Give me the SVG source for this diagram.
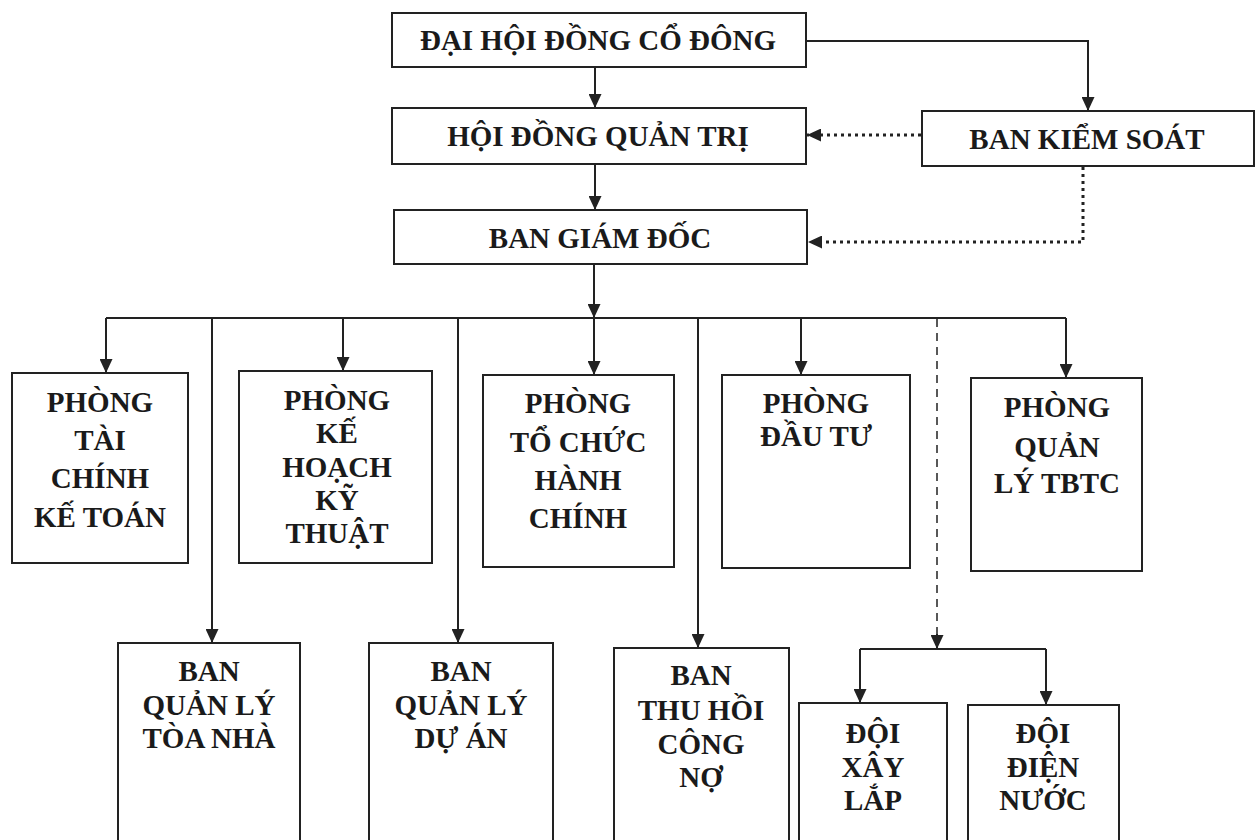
<svg xmlns="http://www.w3.org/2000/svg" width="1260" height="840" viewBox="0 0 1260 840">
<style>
.box{fill:#fff;stroke:#222;stroke-width:2}
.t{font-family:"Liberation Serif","Times New Roman",serif;font-weight:bold;font-size:29px;fill:#1a1a1a;text-anchor:middle}
.ln{fill:none;stroke:#222;stroke-width:2}
.dot{fill:none;stroke:#222;stroke-width:3;stroke-dasharray:3 4}
.dash{fill:none;stroke:#222;stroke-width:1.5;stroke-dasharray:8 6}
</style>
<defs>
<marker id="ahl" viewBox="0 0 14 13" refX="14" refY="6.5" markerWidth="14" markerHeight="13" markerUnits="userSpaceOnUse" orient="auto"><path d="M0,0 L14,6.5 L0,13 z" fill="#222"/></marker>
</defs>
<rect width="1260" height="840" fill="#fff"/>
<g id="connectors">
<path class="ln" d="M595,67 V108" marker-end="url(#ahl)"/>
<path class="ln" d="M595,164 V210" marker-end="url(#ahl)"/>
<path class="ln" d="M806,41 H1088 V111" marker-end="url(#ahl)"/>
<path class="dot" d="M921,135 H807" marker-end="url(#ahl)"/>
<path class="dot" d="M1083,167 V242 H808" marker-end="url(#ahl)"/>
<path class="ln" d="M594,264 V318" marker-end="url(#ahl)"/>
<path class="ln" d="M106,318 H1066"/>
<path class="ln" d="M106,318 V373" marker-end="url(#ahl)"/>
<path class="ln" d="M212,318 V643" marker-end="url(#ahl)"/>
<path class="ln" d="M343,318 V371" marker-end="url(#ahl)"/>
<path class="ln" d="M458,318 V643" marker-end="url(#ahl)"/>
<path class="ln" d="M594,318 V375" marker-end="url(#ahl)"/>
<path class="ln" d="M698,318 V648" marker-end="url(#ahl)"/>
<path class="ln" d="M801,318 V375" marker-end="url(#ahl)"/>
<path class="dash" d="M937,319 V637"/>
<path class="ln" d="M937,634 V649" marker-end="url(#ahl)"/>
<path class="ln" d="M1066,318 V378" marker-end="url(#ahl)"/>
<path class="ln" d="M860,649 H1046"/>
<path class="ln" d="M860,649 V703" marker-end="url(#ahl)"/>
<path class="ln" d="M1046,649 V705" marker-end="url(#ahl)"/>
</g>
<g id="dhdcd"><rect class="box" x="392" y="13" width="414" height="54"/><text class="t" x="598" y="50">ĐẠI HỘI ĐỒNG CỔ ĐÔNG</text></g>
<g id="hdqt"><rect class="box" x="392" y="108" width="414" height="56"/><text class="t" x="598" y="146">HỘI ĐỒNG QUẢN TRỊ</text></g>
<g id="bgd"><rect class="box" x="394" y="210" width="413" height="54"/><text class="t" x="600" y="248">BAN GIÁM ĐỐC</text></g>
<g id="bks"><rect class="box" x="922" y="111" width="332" height="55"/><text class="t" x="1087" y="149">BAN KIỂM SOÁT</text></g>
<g id="ptckt"><rect class="box" x="12" y="373" width="176" height="190"/>
<text class="t" x="100" y="412">PHÒNG</text><text class="t" x="100" y="450">TÀI</text><text class="t" x="100" y="488">CHÍNH</text><text class="t" x="100" y="527">KẾ TOÁN</text></g>
<g id="pkhkt"><rect class="box" x="239" y="371" width="193" height="192"/>
<text class="t" x="337" y="410">PHÒNG</text><text class="t" x="337" y="443">KẾ</text><text class="t" x="337" y="477">HOẠCH</text><text class="t" x="337" y="510">KỸ</text><text class="t" x="337" y="543">THUẬT</text></g>
<g id="ptchc"><rect class="box" x="483" y="375" width="191" height="192"/>
<text class="t" x="578" y="413">PHÒNG</text><text class="t" x="578" y="452">TỔ CHỨC</text><text class="t" x="578" y="490">HÀNH</text><text class="t" x="578" y="528">CHÍNH</text></g>
<g id="pdt"><rect class="box" x="722" y="375" width="188" height="193"/>
<text class="t" x="816" y="413">PHÒNG</text><text class="t" x="816" y="446">ĐẦU TƯ</text></g>
<g id="pqltbtc"><rect class="box" x="971" y="378" width="171" height="193"/>
<text class="t" x="1057" y="417">PHÒNG</text><text class="t" x="1057" y="457">QUẢN</text><text class="t" x="1057" y="493">LÝ TBTC</text></g>
<g id="bqltn"><rect class="box" x="118" y="643" width="182" height="210"/>
<text class="t" x="209" y="681">BAN</text><text class="t" x="209" y="715">QUẢN LÝ</text><text class="t" x="209" y="748">TÒA NHÀ</text></g>
<g id="bqlda"><rect class="box" x="369" y="643" width="184" height="210"/>
<text class="t" x="461" y="681">BAN</text><text class="t" x="461" y="715">QUẢN LÝ</text><text class="t" x="461" y="748">DỰ ÁN</text></g>
<g id="bthcn"><rect class="box" x="614" y="648" width="175" height="205"/>
<text class="t" x="701" y="685">BAN</text><text class="t" x="701" y="720">THU HỒI</text><text class="t" x="701" y="754">CÔNG</text><text class="t" x="701" y="787">NỢ</text></g>
<g id="dxl"><rect class="box" x="799" y="703" width="148" height="150"/>
<text class="t" x="873" y="743">ĐỘI</text><text class="t" x="873" y="777">XÂY</text><text class="t" x="873" y="810">LẮP</text></g>
<g id="ddn"><rect class="box" x="968" y="705" width="151" height="148"/>
<text class="t" x="1043" y="743">ĐỘI</text><text class="t" x="1043" y="777">ĐIỆN</text><text class="t" x="1043" y="810">NƯỚC</text></g>
</svg>
